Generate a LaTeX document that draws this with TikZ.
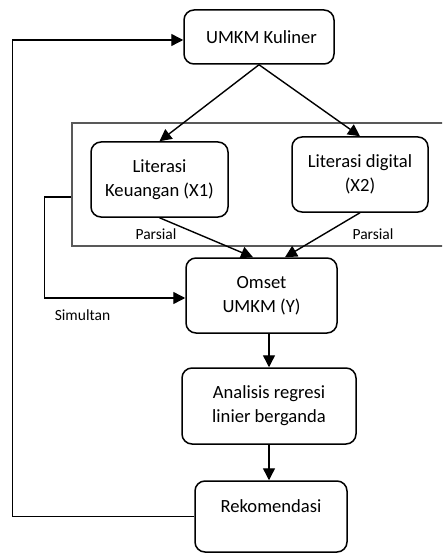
\documentclass[tikz,border=0pt]{standalone}
\usepackage{fontspec}
\setmainfont{Carlito}
\usetikzlibrary{arrows.meta,calc}
\begin{document}
\begin{tikzpicture}[x=1pt,y=-1pt,
  box/.style={draw=black,line width=1.5pt,rounded corners=10pt,align=center,
    font=\fontsize{18.6}{24}\selectfont,inner sep=0pt},
  grpbox/.style={draw=black!65,line width=1.6pt,inner sep=0pt},
  lbl/.style={font=\fontsize{15.5}{18}\selectfont,inner sep=0pt},
  conn/.style={line width=1.4pt,-{Triangle[length=12pt,width=12pt]}}]
\useasboundingbox (0,0) rectangle (442,553);
\clip (0,0) rectangle (442,553);
\fill[white] (0,0) rectangle (442,553);
% group frame (right edge outside picture)
\node[grpbox,minimum width=398pt,minimum height=123pt] (grp) at (271,184.5) {};
\node[box,minimum width=150pt,minimum height=54pt] (umkm) at (259,37) {\hspace*{5pt}UMKM Kuliner};
\node[box,minimum width=137pt,minimum height=75pt] (lk) at (159.5,179.5) {Literasi\\Keuangan (X1)};
\node[box,minimum width=136pt,minimum height=75pt] (ld) at (360,174.5) {Literasi digital\\(X2)};
\node[box,minimum width=151pt,minimum height=75pt] (om) at (261.5,295.5) {Omset\\UMKM (Y)};
\node[box,minimum width=174pt,minimum height=76pt] (an) at (269,406) {Analisis regresi\\linier berganda};
\node[box,minimum width=152pt,minimum height=71pt,text depth=20pt] (rk) at (271,516.5) {Rekomendasi};
\node[lbl] (p1) at (156,234) {Parsial};
\node[lbl] (p2) at (373,234) {Parsial};
\node[lbl] (sim) at (82.5,315) {Simultan};
% connectors
\draw[conn] (umkm.south) -- (lk.north);
\draw[conn] (umkm.south) -- (ld.north);
\draw[conn] (lk.south) -- ([xshift=-8.5pt]om.north);
\draw[conn] (ld.south) -- ([xshift=23.5pt]om.north);
\draw[conn] (om.south -| an.north) -- (an.north);
\draw[conn] (an.south) -- (an.south |- rk.north);
\draw[conn] ([yshift=-12.5pt]grp.west) -- ++(-27,0) |- ([yshift=-2.5pt]om.west);
\draw[conn] (rk.west) -- ++(-182,0) |- ([yshift=-3pt]umkm.west);
\end{tikzpicture}
\end{document}
